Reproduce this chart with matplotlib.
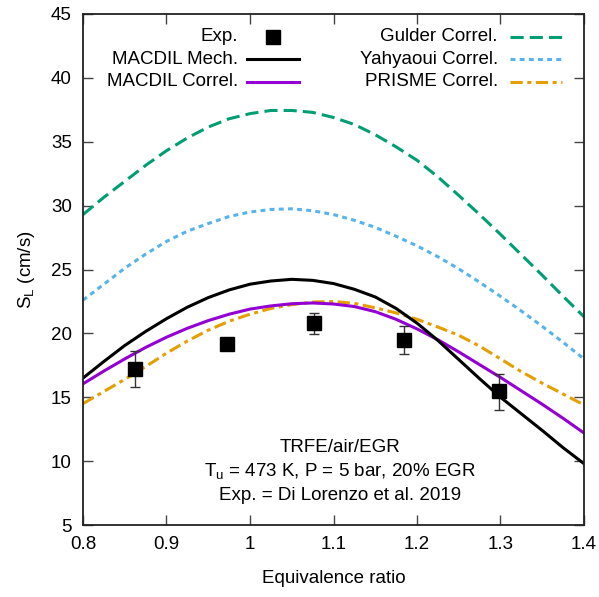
import matplotlib
matplotlib.use("Agg")
import matplotlib.pyplot as plt
import numpy as np

plt.rcParams["font.family"] = ["Liberation Sans", "DejaVu Sans"]

# experimental points (Di Lorenzo et al. 2019)
exp_phi = [0.862, 0.972, 1.077, 1.184, 1.298]
exp_sl = [17.2, 19.2, 20.8, 19.5, 15.5]
exp_lo = [1.4, 0.0, 0.85, 1.15, 1.5]
exp_hi = [1.4, 0.0, 0.8, 1.05, 1.3]

# curves
phi_grid = [0.800, 0.825, 0.850, 0.875, 0.900, 0.925, 0.950, 0.975, 1.000,
            1.025, 1.050, 1.075, 1.100, 1.125, 1.150, 1.175, 1.200, 1.225,
            1.250, 1.275, 1.300, 1.325, 1.350, 1.375, 1.400]
gulder = [29.3, 30.65, 31.9, 33.15, 34.3, 35.3, 36.15, 36.8, 37.2,
          37.45, 37.45, 37.3, 36.9, 36.35, 35.55, 34.6, 33.55, 32.25,
          30.8, 29.3, 27.75, 26.15, 24.55, 22.9, 21.3]
yahyaoui = [22.6, 23.85, 25.1, 26.2, 27.2, 28.0, 28.6, 29.15, 29.5,
            29.7, 29.75, 29.6, 29.3, 28.85, 28.3, 27.6, 26.85, 26.0,
            25.05, 24.0, 22.9, 21.75, 20.55, 19.3, 18.0]
macdil_mech = [16.5, 17.8, 19.05, 20.15, 21.15, 22.05, 22.8, 23.4, 23.85,
               24.1, 24.23, 24.15, 23.9, 23.45, 22.85, 21.95, 20.8, 19.45,
               17.95, 16.45, 15.0, 13.7, 12.4, 11.05, 9.8]
macdil_corr = [16.05, 17.05, 18.0, 18.9, 19.7, 20.4, 21.0, 21.5, 21.9,
               22.15, 22.32, 22.38, 22.3, 22.1, 21.7, 21.1, 20.35, 19.5,
               18.55, 17.55, 16.55, 15.5, 14.45, 13.35, 12.2]
prisme = [14.5, 15.45, 16.4, 17.4, 18.45, 19.4, 20.25, 20.95, 21.5,
          21.95, 22.25, 22.45, 22.5, 22.35, 22.0, 21.6, 21.1, 20.5,
          19.85, 19.0, 18.0, 17.0, 16.1, 15.25, 14.4]

GREEN = "#009e73"
BLUE = "#56b4e9"
ORANGE = "#e69f00"
VIOLET = "#9400d3"
LW = 2.2
FS = 13.5

fig = plt.figure(figsize=(5.99, 5.97), dpi=100)
ax = fig.add_axes([83 / 599, 1 - 525 / 597, 501 / 599, 511 / 597])

styles = [
    ("Gulder Correl.", gulder, dict(color=GREEN, ls=(0, (4.3, 2.0)))),
    ("Yahyaoui Correl.", yahyaoui, dict(color=BLUE, ls=(0, (1.6, 1.4)))),
    ("PRISME Correl.", prisme, dict(color=ORANGE, ls=(0, (4.0, 1.5, 1.3, 1.5)))),
    ("MACDIL Correl.", macdil_corr, dict(color=VIOLET, ls="-")),
    ("MACDIL Mech.", macdil_mech, dict(color="black", ls="-")),
]
for name, vals, st in styles:
    ax.plot(phi_grid, vals, lw=LW, **st)

ax.errorbar(exp_phi, exp_sl, yerr=[exp_lo, exp_hi], fmt="none",
            ecolor="#333333", elinewidth=1.0, capsize=3.6, capthick=1.0, zorder=4)
ax.plot(exp_phi, exp_sl, ls="none", marker="s", ms=9.5, color="black", zorder=5)

ax.set_xlim(0.8, 1.4)
ax.set_ylim(5, 45)
ax.set_xticks(np.arange(0.8, 1.401, 0.1))
ax.set_xticklabels(["0.8", "0.9", "1", "1.1", "1.2", "1.3", "1.4"])
ax.set_yticks(np.arange(5, 46, 5))
ax.tick_params(direction="in", length=7, width=1.0, color="#444444",
               top=True, right=True, labelsize=FS, pad=8)
for s in ax.spines.values():
    s.set_linewidth(1.3)
    s.set_color("#222222")

ax.set_xlabel("Equivalence ratio", fontsize=FS, labelpad=12)
ax.set_ylabel(r"S$_\mathregular{L}$ (cm/s)", fontsize=FS, labelpad=10)


# gnuplot-style key: text right aligned, sample to its right
def px(x, y):
    return ((x - 83) / 501, (525 - y) / 511)


left_rows = [("Exp.", None), ("MACDIL Mech.", dict(color="black", ls="-")),
             ("MACDIL Correl.", dict(color=VIOLET, ls="-"))]
right_rows = [("Gulder Correl.", styles[0][2]), ("Yahyaoui Correl.", styles[1][2]),
              ("PRISME Correl.", styles[2][2])]
row_y = [36.5, 59.3, 81.7]
for (lbl, st), y in zip(left_rows, row_y):
    tx, ty = px(238, y)
    ax.text(tx, ty, lbl, ha="right", va="center", fontsize=FS, transform=ax.transAxes)
    x0, _ = px(247, y)
    x1, _ = px(299, y)
    if st is None:
        ax.plot([(x0 + x1) / 2], [ty], marker="s", ms=9.5, color="black",
                transform=ax.transAxes, clip_on=False)
    else:
        ax.plot([x0, x1], [ty, ty], lw=LW, transform=ax.transAxes, **st)
for (lbl, st), y in zip(right_rows, row_y):
    tx, ty = px(498, y)
    ax.text(tx, ty, lbl, ha="right", va="center", fontsize=FS, transform=ax.transAxes)
    x0, _ = px(510, y)
    x1, _ = px(562, y)
    ax.plot([x0, x1], [ty, ty], lw=LW, transform=ax.transAxes, **st)

notes = ["TRFE/air/EGR", r"T$_\mathregular{u}$ = 473 K, P = 5 bar, 20% EGR",
         "Exp. = Di Lorenzo et al. 2019"]
for txt, y in zip(notes, [448, 472, 496]):
    tx, ty = px(340, y)
    ax.text(tx, ty, txt, ha="center", va="center", fontsize=FS, transform=ax.transAxes)

fig.savefig("out.png", dpi=100)
